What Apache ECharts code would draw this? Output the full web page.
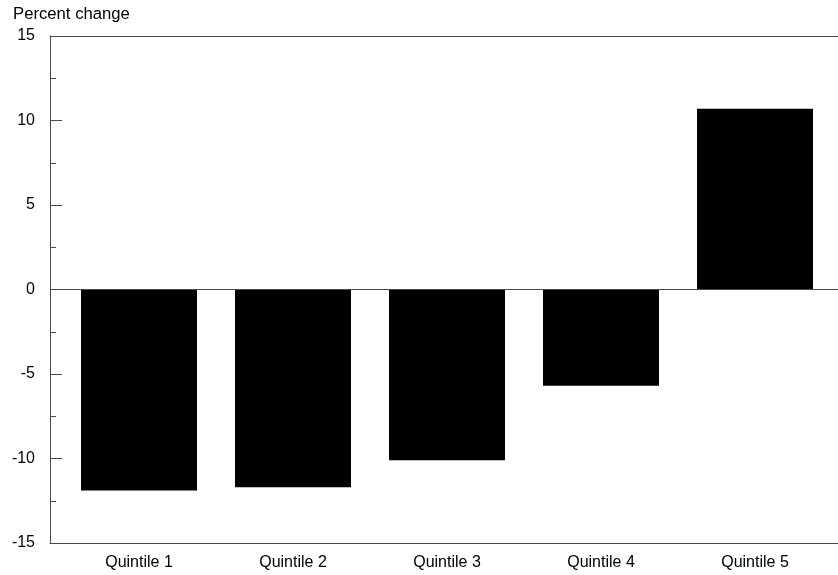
<!DOCTYPE html>
<html><head><meta charset="utf-8">
<script src="https://cdn.jsdelivr.net/npm/echarts@6/dist/echarts.min.js"></script>
<style>html,body{margin:0;padding:0;background:#fff}#c{width:838px;height:575px}</style>
</head><body><div id="c"></div>
<script>
const categories = ['Quintile 1','Quintile 2','Quintile 3','Quintile 4','Quintile 5'];
const values = [-11.9, -11.7, -10.1, -5.7, 10.7];
const yTicks = [-15, -10, -5, 0, 5, 10, 15];
const yTitle = 'Percent change';

const font = 'Liberation Sans, Arial, sans-serif';
const axisColor = '#4a4a4a';
const chart = echarts.init(document.getElementById('c'), null, {renderer:'canvas'});
chart.setOption({
  animation: false,
  backgroundColor: '#fff',
  grid: [
    {left: 50, right: 0, top: 36, bottom: 32},
    {left: 62, right: 6, top: 36, bottom: 32}
  ],
  xAxis: [
    {type:'category', gridIndex:0, position:'bottom', data: categories,
     axisLine:{show:true, onZero:false, lineStyle:{color:axisColor, width:1}},
     axisTick:{show:false}, axisLabel:{show:false}, splitLine:{show:false}},
    {type:'category', gridIndex:0, position:'top', data: categories,
     axisLine:{show:true, onZero:false, lineStyle:{color:axisColor, width:1}},
     axisTick:{show:false}, axisLabel:{show:false}, splitLine:{show:false}},
    {type:'category', gridIndex:1, position:'bottom', data: categories,
     axisLine:{show:false}, axisTick:{show:false},
     axisLabel:{show:true, color:'#000', fontFamily:font, fontSize:16, margin:12},
     splitLine:{show:false}}
  ],
  yAxis: [
    {type:'value', gridIndex:0, min: yTicks[0], max: yTicks[yTicks.length-1], interval:5,
     name: yTitle, nameLocation:'end', nameGap: 13,
     nameTextStyle:{color:'#000', fontFamily:font, fontSize:16.7, align:'left', padding:[0,0,0,-37]},
     axisLine:{show:true, lineStyle:{color:axisColor, width:1}},
     axisTick:{show:true, inside:true, length:12, lineStyle:{color:axisColor}},
     minorTick:{show:true, splitNumber:2, length:6, lineStyle:{color:axisColor}},
     axisLabel:{color:'#000', fontFamily:font, fontSize:16, margin:15},
     splitLine:{show:false}},
    {type:'value', gridIndex:1, min: yTicks[0], max: yTicks[yTicks.length-1], interval:5,
     axisLine:{show:false}, axisTick:{show:false}, axisLabel:{show:false}, splitLine:{show:false}}
  ],
  series: [
    {type:'line', xAxisIndex:0, yAxisIndex:0, data:[], silent:true,
     markLine:{silent:true, symbol:'none', label:{show:false},
       lineStyle:{color:axisColor, width:1, type:'solid'}, data:[{yAxis:0}]}},
    {type:'bar', xAxisIndex:2, yAxisIndex:1, data: values, barWidth: 116,
     itemStyle:{color:'#000'}, z:3}
  ]
});
</script></body></html>
